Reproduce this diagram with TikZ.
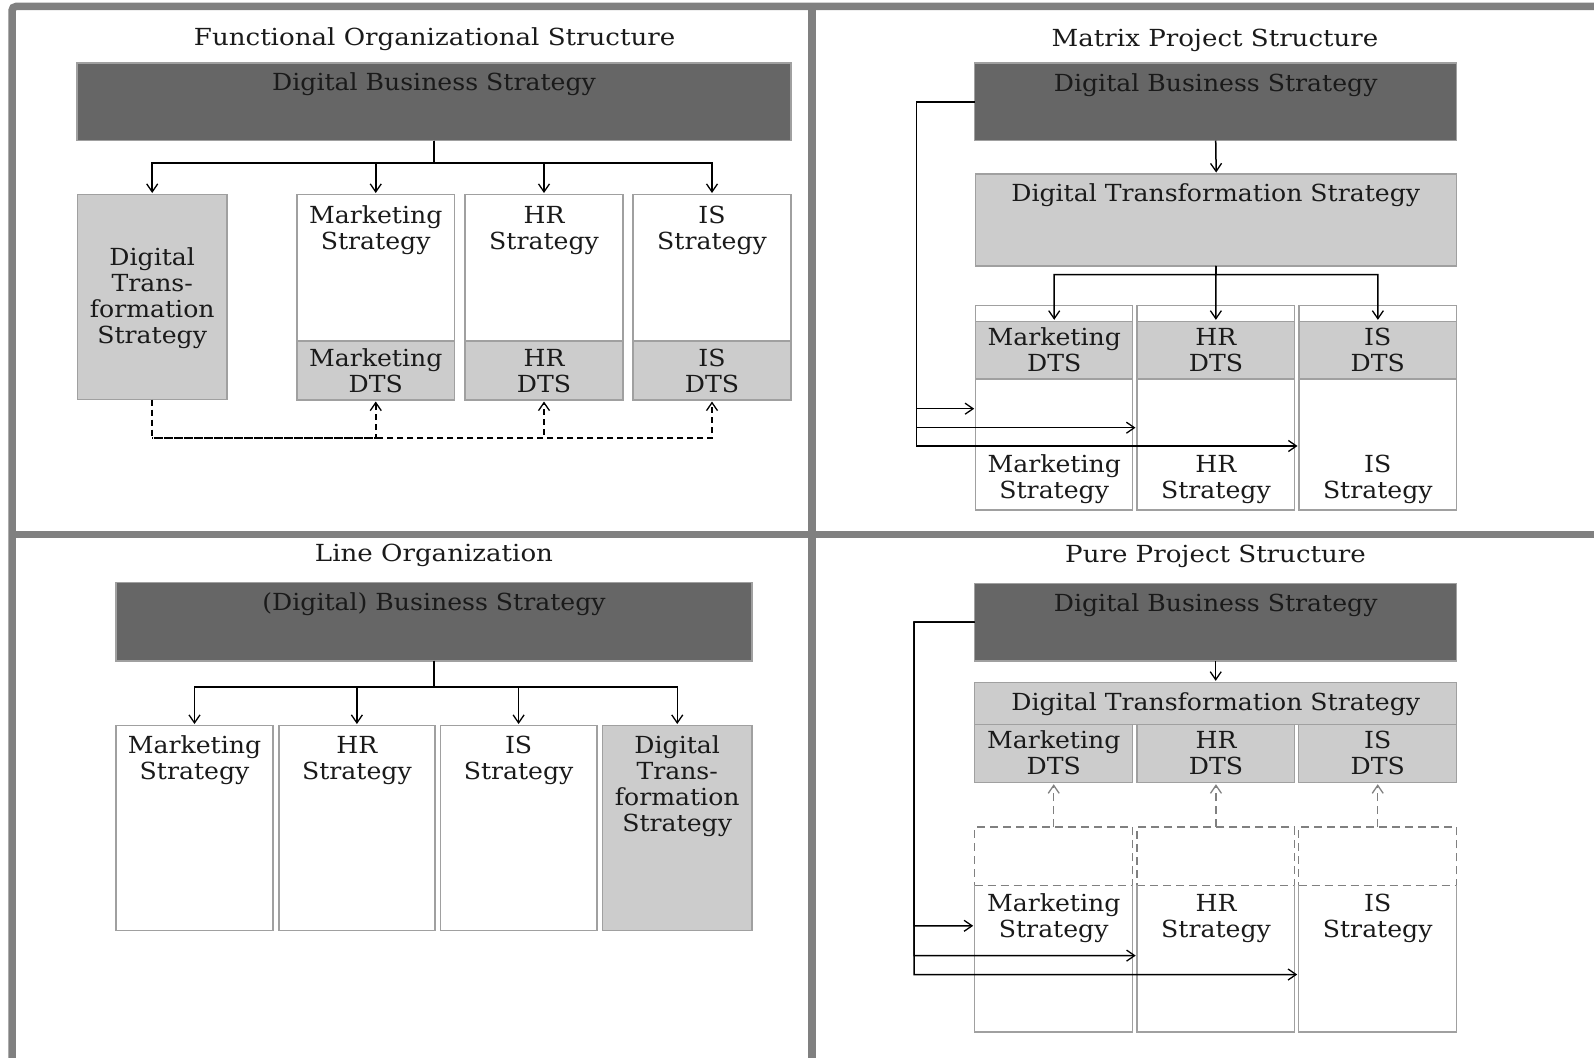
\documentclass[tikz,border=0pt]{standalone}
\usepackage{fontspec}
\setmainfont[FakeStretch=1.07]{DejaVu Serif}
\newfontfamily\ttlfont[FakeStretch=1.11]{DejaVu Serif}
\usetikzlibrary{arrows.meta}
\definecolor{dk}{HTML}{666666}
\definecolor{lt}{HTML}{CCCCCC}
\definecolor{bd}{HTML}{A0A0A0}
\definecolor{fr}{HTML}{808080}
\definecolor{ink}{HTML}{1A1A1A}
\newcommand\mkbox[6]{\node[#6, minimum width={(#4)-(#2)}, minimum height={(#5)-(#3)}, anchor=north west] (#1) at (#2,#3) {};}
\tikzset{
  box/.style={draw=bd, line width=1.5pt, inner sep=0pt, outer sep=0pt},
  dkbox/.style={box, fill=dk},
  ltbox/.style={box, fill=lt},
  whbox/.style={box, fill=white},
  nobox/.style={inner sep=0pt, outer sep=0pt},
  dashbox/.style={draw=fr, line width=1.5pt, dash pattern=on 8pt off 5pt, inner sep=0pt, outer sep=0pt},
  lbl/.style={font=\fontsize{23.5}{26}\selectfont, text=ink, inner sep=0pt, outer sep=0pt, align=center, anchor=base},
  ttl/.style={lbl, font=\ttlfont\fontsize{23.5}{26}\selectfont},
  conn/.style={line width=1.5pt, draw=black},
  arr/.style={conn, -{Straight Barb[length=8pt,width=11pt,line width=1.3pt]}, shorten >=1.5pt},
  dsh/.style={arr, dash pattern=on 6pt off 4pt},
  gdsh/.style={arr, draw=fr, dash pattern=on 8pt off 5pt},
  frame/.style={draw=fr, line width=7.5pt}
}
\begin{document}
\begin{tikzpicture}[x=1pt,y=-1pt]
\useasboundingbox (0,0) rectangle (1594,1057);
\clip (0,0) rectangle (1594,1057);
% frame
\draw[frame, rounded corners=4pt] (12,1070) -- (12,6.5) -- (1610,6.5);
\draw[frame] (812,6.5) -- (812,1070);
\draw[frame, line width=6.5pt] (12,534.7) -- (1610,534.7);

% ---------- Functional Organizational Structure ----------
\node[ttl] (tF) at (434.6,46) {Functional Organizational Structure};
\mkbox{dbsF}{77}{63}{791}{140.5}{dkbox}
\node[lbl] (dbsFt) at (434,90) {Digital Business Strategy};
\mkbox{dtsF}{77.4}{194.5}{227}{399.5}{ltbox}
\node[lbl] (dtsFt) at (152.2,343.5) {Digital\\Trans-\\formation\\Strategy};
\mkbox{mF}{297}{194.5}{454.5}{341}{whbox}
\mkbox{mdF}{297}{341}{454.5}{400}{ltbox}
\mkbox{hF}{465}{194.5}{623}{341}{whbox}
\mkbox{hdF}{465}{341}{623}{400}{ltbox}
\mkbox{iF}{633}{194.5}{791}{341}{whbox}
\mkbox{idF}{633}{341}{791}{400}{ltbox}
\node[lbl] (mFt) at (375.7,249) {Marketing\\Strategy};
\node[lbl] (hFt) at (544,249) {HR\\Strategy};
\node[lbl] (iFt) at (712,249) {IS\\Strategy};
\node[lbl] (mdFt) at (375.7,392) {Marketing\\DTS};
\node[lbl] (hdFt) at (544,392) {HR\\DTS};
\node[lbl] (idFt) at (712,392) {IS\\DTS};
\coordinate (jF) at (434,163);
\draw[arr] (dbsF.south) -- (jF) -| (dtsF.north);
\draw[arr] (dbsF.south) -- (jF) -| (mF.north);
\draw[arr] (dbsF.south) -- (jF) -| (hF.north);
\draw[arr] (dbsF.south) -- (jF) -| (iF.north);
\coordinate (dF) at (152.2,438);
\draw[dsh] (dtsF.south) -- (dF) -| (mdF.south);
\draw[dsh, dash phase=5pt] (dF) -| (hdF.south);
\draw[dsh, dash phase=5pt] (dF) -| (idF.south);

% ---------- Matrix Project Structure ----------
\node[ttl] (tM) at (1215,46.5) {Matrix Project Structure};
\mkbox{dbsM}{974.7}{63}{1456.7}{140.5}{dkbox}
\node[lbl] (dbsMt) at (1215.7,91) {Digital Business Strategy};
\mkbox{dtsM}{975.7}{174}{1456.7}{266}{ltbox}
\node[lbl] (dtsMt) at (1215.7,201.4) {Digital Transformation Strategy};
\draw[arr] (dbsM.south) -- (dtsM.north);
\mkbox{cM1}{975.7}{305.4}{1132.7}{510}{whbox}
\mkbox{cM2}{1137}{305.4}{1294.7}{510}{whbox}
\mkbox{cM3}{1299}{305.4}{1456.7}{510}{whbox}
\mkbox{dM1}{975.7}{321.3}{1132.7}{379}{ltbox}
\mkbox{dM2}{1137}{321.3}{1294.7}{379}{ltbox}
\mkbox{dM3}{1299}{321.3}{1456.7}{379}{ltbox}
\node[lbl] (dM1t) at (1054.2,371) {Marketing\\DTS};
\node[lbl] (dM2t) at (1215.9,371) {HR\\DTS};
\node[lbl] (dM3t) at (1377.8,371) {IS\\DTS};
\node[lbl] (sM1t) at (1054.2,498.5) {Marketing\\Strategy};
\node[lbl] (sM2t) at (1215.9,498.5) {HR\\Strategy};
\node[lbl] (sM3t) at (1377.8,498.5) {IS\\Strategy};
\coordinate (jM) at (1215.7,274.5);
\draw[arr] (dtsM.south) -- (jM) -| (dM1.north);
\draw[arr] (dtsM.south) -- (jM) -| (dM2.north);
\draw[arr] (dtsM.south) -- (jM) -| (dM3.north);
\coordinate (lM) at (916.5,101.75);
\draw[arr] (dbsM.west) -- (lM) |- (cM1.west |- 0,408.7);
\draw[arr] (dbsM.west) -- (lM) |- (cM2.west |- 0,427.7);
\draw[arr] (dbsM.west) -- (lM) |- (cM3.west |- 0,446);

% ---------- Line Organization ----------
\node[ttl] (tL) at (434,561.8) {Line Organization};
\mkbox{dbsL}{116}{582.7}{752}{660.8}{dkbox}
\node[lbl] (dbsLt) at (434,610.8) {(Digital) Business Strategy};
\mkbox{mL}{116}{725.5}{273}{930.3}{whbox}
\mkbox{hL}{278.8}{725.5}{435}{930.3}{whbox}
\mkbox{iL}{440.4}{725.5}{596.8}{930.3}{whbox}
\mkbox{dL}{602.5}{725.5}{752}{930.3}{ltbox}
\node[lbl] (mLt) at (194.5,779.8) {Marketing\\Strategy};
\node[lbl] (hLt) at (356.9,779.8) {HR\\Strategy};
\node[lbl] (iLt) at (518.6,779.8) {IS\\Strategy};
\node[lbl] (dLt) at (677.2,831.5) {Digital\\Trans-\\formation\\Strategy};
\coordinate (jL) at (434,687);
\draw[arr] (dbsL.south) -- (jL) -| (mL.north);
\draw[arr] (dbsL.south) -- (jL) -| (hL.north);
\draw[arr] (dbsL.south) -- (jL) -| (iL.north);
\draw[arr] (dbsL.south) -- (jL) -| (dL.north);

% ---------- Pure Project Structure ----------
\node[ttl] (tP) at (1215.5,562.8) {Pure Project Structure};
\mkbox{dbsP}{974.7}{583.4}{1456.7}{661}{dkbox}
\node[lbl] (dbsPt) at (1215.7,611.8) {Digital Business Strategy};
\mkbox{dtsP}{974.7}{682.3}{1456.7}{724.4}{ltbox}
\node[lbl] (dtsPt) at (1215.7,710) {Digital Transformation Strategy};
\draw[arr] (dbsP.south) -- (dtsP.north);
\mkbox{dP1}{974.7}{724.4}{1132.7}{782.7}{ltbox}
\mkbox{dP2}{1137.2}{724.4}{1294.7}{782.7}{ltbox}
\mkbox{dP3}{1298.7}{724.4}{1456.7}{782.7}{ltbox}
\node[lbl] (dP1t) at (1053.7,774.5) {Marketing\\DTS};
\node[lbl] (dP2t) at (1216,774.5) {HR\\DTS};
\node[lbl] (dP3t) at (1377.7,774.5) {IS\\DTS};
\mkbox{qP1}{974.7}{827.2}{1132.7}{885.4}{dashbox}
\mkbox{qP2}{1137.2}{827.2}{1294.7}{885.4}{dashbox}
\mkbox{qP3}{1298.7}{827.2}{1456.7}{885.4}{dashbox}
\draw[gdsh] (qP1.north) -- (dP1.south);
\draw[gdsh] (qP2.north) -- (dP2.south);
\draw[gdsh] (qP3.north) -- (dP3.south);
\mkbox{sP1}{974.7}{885.4}{1132.7}{1032}{nobox}
\mkbox{sP2}{1137.2}{885.4}{1294.7}{1032}{nobox}
\mkbox{sP3}{1298.7}{885.4}{1456.7}{1032}{nobox}
\foreach \s in {sP1,sP2,sP3}{
  \draw[draw=bd, line width=1.5pt] (\s.north west) -- (\s.south west) -- (\s.south east) -- (\s.north east);
}
\node[lbl] (sP1t) at (1053.7,937.8) {Marketing\\Strategy};
\node[lbl] (sP2t) at (1216,937.8) {HR\\Strategy};
\node[lbl] (sP3t) at (1377.7,937.8) {IS\\Strategy};
\coordinate (lP) at (914,622);
\draw[arr] (dbsP.west) -- (lP) |- (sP1.west |- 0,925.8);
\draw[arr] (dbsP.west) -- (lP) |- (sP2.west |- 0,955.6);
\draw[arr] (dbsP.west) -- (lP) |- (sP3.west |- 0,974.5);
\end{tikzpicture}
\end{document}
